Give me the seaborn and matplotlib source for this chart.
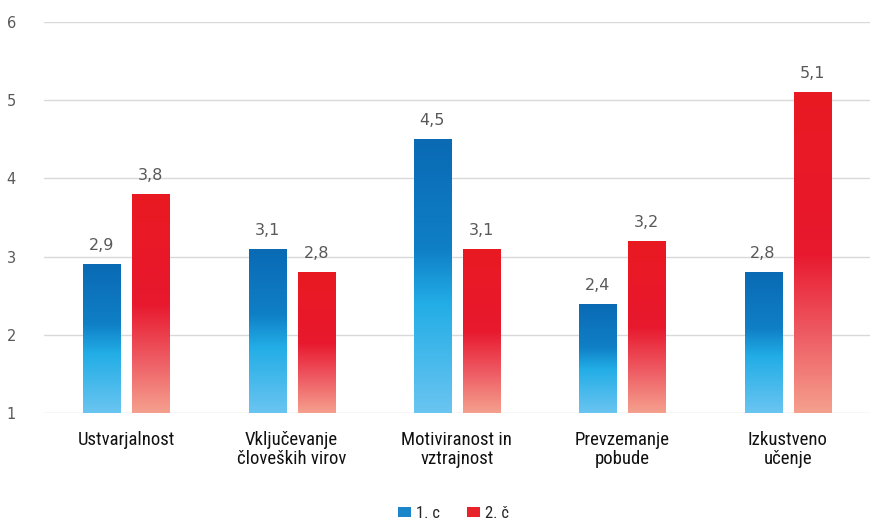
import numpy as np
import pandas as pd
import matplotlib
matplotlib.use("Agg")
import matplotlib.pyplot as plt
from matplotlib.colors import LinearSegmentedColormap
from matplotlib.patches import Patch
import seaborn as sns

categories = ["Ustvarjalnost", "Vključevanje\nčloveških virov", "Motiviranost in\nvztrajnost",
              "Prevzemanje\npobude", "Izkustveno\nučenje"]
series_names = ["1. c", "2. č"]
values_1c = [2.9, 3.1, 4.5, 2.4, 2.8]
values_2c = [3.8, 2.8, 3.1, 3.2, 5.1]
y_ticks = [1, 2, 3, 4, 5, 6]

df = pd.DataFrame({
    "kategorija": categories * 2,
    "razred": [series_names[0]] * len(categories) + [series_names[1]] * len(categories),
    "vrednost": values_1c + values_2c,
})

sns.set_theme(style="white")
plt.rcParams["font.family"] = ["DejaVu Sans"]
narrow = ["Liberation Sans Narrow", "Roboto Condensed", "DejaVu Sans"]

fig = plt.figure(figsize=(8.72, 5.32), dpi=100)
ax = fig.add_axes([0.05, 0.2237, 0.948, 0.735])

palette = {series_names[0]: "#1478c0", series_names[1]: "#e8151f"}
sns.barplot(data=df, x="kategorija", y="vrednost", hue="razred", palette=palette,
            width=0.594, gap=0.245, ax=ax, legend=False, saturation=1)

ax.set_ylim(1, 6)
ax.set_xlim(-0.5, len(categories) - 0.5)
ax.set_yticks(y_ticks)
ax.set_yticklabels([str(t) for t in y_ticks], color="#595959", fontsize=10.5)
ax.yaxis.grid(True, color="#d9d9d9", linewidth=1)
ax.set_axisbelow(True)
for s in ax.spines.values():
    s.set_visible(False)
ax.tick_params(axis="y", length=0, pad=20)
ax.tick_params(axis="x", length=0, pad=13)
ax.set_xlabel("")
ax.set_ylabel("")
for lab in ax.get_xticklabels():
    lab.set_fontfamily(narrow)
    lab.set_fontsize(13.5)
    lab.set_color("#111111")
    lab.set_linespacing(1.1)

# vertical gradients inside bars (dark at top, light at bottom)
blue_cmap = LinearSegmentedColormap.from_list(
    "modra", [(0.0, "#6ac5f1"), (0.4, "#22ade6"), (0.6, "#0f7fc6"), (1.0, "#0a6ab4")])
red_cmap = LinearSegmentedColormap.from_list(
    "rdeca", [(0.0, "#f5a08e"), (0.25, "#ee5a62"), (0.5, "#e8182e"), (1.0, "#ea1a22")])

grad = np.linspace(0, 1, 256).reshape(-1, 1)
patches = list(ax.patches)
n = len(categories)
for i, p in enumerate(patches):
    cmap = blue_cmap if i < n else red_cmap
    x0 = p.get_x()
    w = p.get_width()
    h = p.get_height()
    p.set_facecolor("none")
    p.set_edgecolor("none")
    img = ax.imshow(grad, cmap=cmap, origin="lower", aspect="auto",
                    extent=[x0, x0 + w, 1, h], zorder=2)
    img.set_clip_path(p)
    ax.text(x0 + w / 2, h + 0.14, f"{h:.1f}".replace(".", ","), ha="center", va="bottom",
            fontsize=11.5, color="#595959")

ax.set_xlim(-0.5, len(categories) - 0.5)
ax.set_ylim(1, 6)

handles = [Patch(facecolor="#1a86c9", edgecolor="none"), Patch(facecolor="#e8232b", edgecolor="none")]
leg = fig.legend(handles, series_names, loc="lower center", bbox_to_anchor=(0.52, -0.008),
                 ncol=2, frameon=False, fontsize=12, handlelength=0.8, handleheight=0.55,
                 handletextpad=0.3, columnspacing=1.6)
for t in leg.get_texts():
    t.set_fontfamily(narrow)

fig.savefig("out.png", dpi=100)
